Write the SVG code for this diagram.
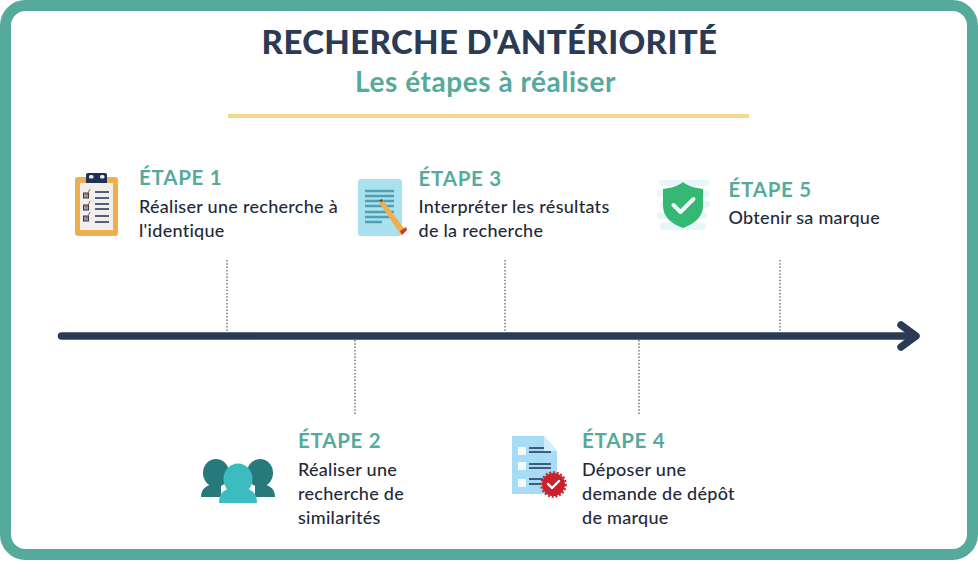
<svg xmlns="http://www.w3.org/2000/svg" width="978" height="582" viewBox="0 0 978 582">
<style>
text{font-family:Lato,"Liberation Sans",sans-serif}
.title{font-size:33px;font-weight:900;fill:#2b3a55;letter-spacing:.36px}
.sub{font-size:28px;font-weight:700;fill:#55aa9c;letter-spacing:.55px}
.h{font-size:20.500px;font-weight:700;fill:#55aa9c;letter-spacing:.75px}
.t{font-size:18px;font-weight:500;fill:#1f2a3a;letter-spacing:.28px}
.dot{stroke:#555;stroke-width:1.2;stroke-dasharray:1.5 1.8;fill:none}
.ln{stroke:#1f3154;stroke-width:1.5;fill:none}
.tl{stroke:#4f9fb4;stroke-width:2.4;fill:none}
</style>
<rect width="978" height="582" fill="#fff"/>
<rect x="5.500" y="5.500" width="967" height="549" rx="20" fill="#fff" stroke="#55aa9c" stroke-width="11"/>
<g id="title">
<text class="title" x="489.500" y="54" text-anchor="middle">RECHERCHE D'ANTÉRIORITÉ</text>
<text class="sub" x="485.500" y="92" text-anchor="middle">Les étapes à réaliser</text>
<rect x="228" y="114" width="521" height="4" fill="#f5d98a"/>
</g>
<g id="connectors">
<path d="M61.500 336H914" stroke="#2b3a55" stroke-width="7.500" stroke-linecap="round" fill="none"/>
<path d="M901 325L916 336L901 347" stroke="#2b3a55" stroke-width="7.500" stroke-linecap="round" stroke-linejoin="round" fill="none"/>
<path class="dot" d="M227 260V332M505 260V332M780 260V332M355 340V415M639 340V415"/>
</g>
<g id="step1">
<rect x="75" y="177" width="43" height="59" rx="3" fill="#eeb04e"/>
<rect x="80" y="183" width="33" height="47" fill="#f1efec"/>
<path d="M86 183v-8a2 2 0 0 1 2-2h17a2 2 0 0 1 2 2v8z" fill="#1f3154"/>
<rect x="89" y="175" width="4.500" height="3.500" rx="1.500" fill="#e8eef4"/><rect x="100" y="175" width="4.500" height="3.500" rx="1.500" fill="#e8eef4"/>
<g fill="#9a9aa2" stroke="#333a4a" stroke-width="1"><rect x="83.500" y="193" width="5" height="5"/><rect x="83.500" y="205" width="5" height="5"/><rect x="83.500" y="216" width="5" height="5"/></g>
<path d="M85 194l2 1 3-6M85 206l2 1 3-6M85 217l2 1 3-6" stroke="#b8504a" stroke-width="1" fill="none"/>
<path class="ln" d="M95 192h14M95 198h14M95 204h14M95 209h14M95 216h14M95 222h14"/>
<text class="h" x="139" y="185">ÉTAPE 1</text>
<text class="t" x="139" y="213">Réaliser une recherche à</text>
<text class="t" x="139" y="237">l'identique</text>
</g>
<g id="step3">
<rect x="358" y="179" width="44" height="57" rx="3" fill="#a9e1ef"/>
<path class="tl" d="M365 191h29M365 196h29M365 201h29M365 206h29M365 212h29M365 217h29M365 222h17"/>
<path d="M378 201l4-2 24 32-5 4z" fill="#eeb04e"/>
<path d="M378 201l4-2 1 3z" fill="#444"/>
<path d="M400 231l6-4 1 3-5 5z" fill="#c8392f"/>
<text class="h" x="418.500" y="186">ÉTAPE 3</text>
<text class="t" x="418.500" y="213">Interpréter les résultats</text>
<text class="t" x="418.500" y="237">de la recherche</text>
</g>
<g id="step5">
<g fill="#e6f7fa"><rect x="659" y="180" width="50" height="6" rx="3"/><rect x="657" y="190" width="52" height="7" rx="3"/><rect x="660" y="201" width="50" height="7" rx="3"/><rect x="657" y="212" width="50" height="7" rx="3"/><rect x="660" y="223" width="46" height="7" rx="3"/></g>
<path d="M683 182c5 4 12 6 20 7v17c0 11-9 18-20 22-11-4-20-11-20-22v-17c8-1 15-3 20-7z" fill="#34b874"/>
<path d="M673.500 205l7 7 13-13" stroke="#eef7f3" stroke-width="4" stroke-linecap="round" stroke-linejoin="round" fill="none"/>
<text class="h" x="728.500" y="197">ÉTAPE 5</text>
<text class="t" x="728.500" y="224">Obtenir sa marque</text>
</g>
<g id="step2">
<g fill="#267a7b">
<ellipse cx="216" cy="473" rx="13" ry="14"/><ellipse cx="260" cy="473" rx="13" ry="14"/>
<path d="M201 497c0-8 5-12 15-14h5v14zM275 497c0-8-5-12-15-14h-5v14z"/>
</g>
<ellipse cx="238" cy="479" rx="14.500" ry="15.500" fill="#3dbcc0"/>
<path d="M219 503c0-11 6-15 19-16 13 1 19 5 19 16z" fill="#3dbcc0"/>
<text class="h" x="298" y="448">ÉTAPE 2</text>
<text class="t" x="298" y="476">Réaliser une</text>
<text class="t" x="298" y="500">recherche de</text>
<text class="t" x="298" y="524">similarités</text>
</g>
<g id="step4">
<path d="M512 436h32l13 15v43h-45z" fill="#a6dcf5"/>
<path d="M544 436v15h13z" fill="#cdeefa"/>
<g fill="#f3fafc"><rect x="518" y="447" width="8" height="8"/><rect x="518" y="462" width="8" height="8"/><rect x="518" y="479" width="8" height="8"/></g>
<path stroke="#1f3154" stroke-width="1.600" fill="none" d="M529 448h15M529 452h22M529 464h22M529 468h22M529 479h14M529 484h12"/>
<circle cx="553.500" cy="484.500" r="11.500" fill="#c8232c"/>
<circle cx="553.500" cy="484.500" r="12.300" fill="none" stroke="#c8232c" stroke-width="2" stroke-dasharray="2 1.800"/>
<path d="M548 484l4 4 7-7" stroke="#fff" stroke-width="2.400" stroke-linecap="round" stroke-linejoin="round" fill="none"/>
<text class="h" x="582" y="448">ÉTAPE 4</text>
<text class="t" x="582" y="476">Déposer une</text>
<text class="t" x="582" y="500">demande de dépôt</text>
<text class="t" x="582" y="524">de marque</text>
</g>
</svg>
